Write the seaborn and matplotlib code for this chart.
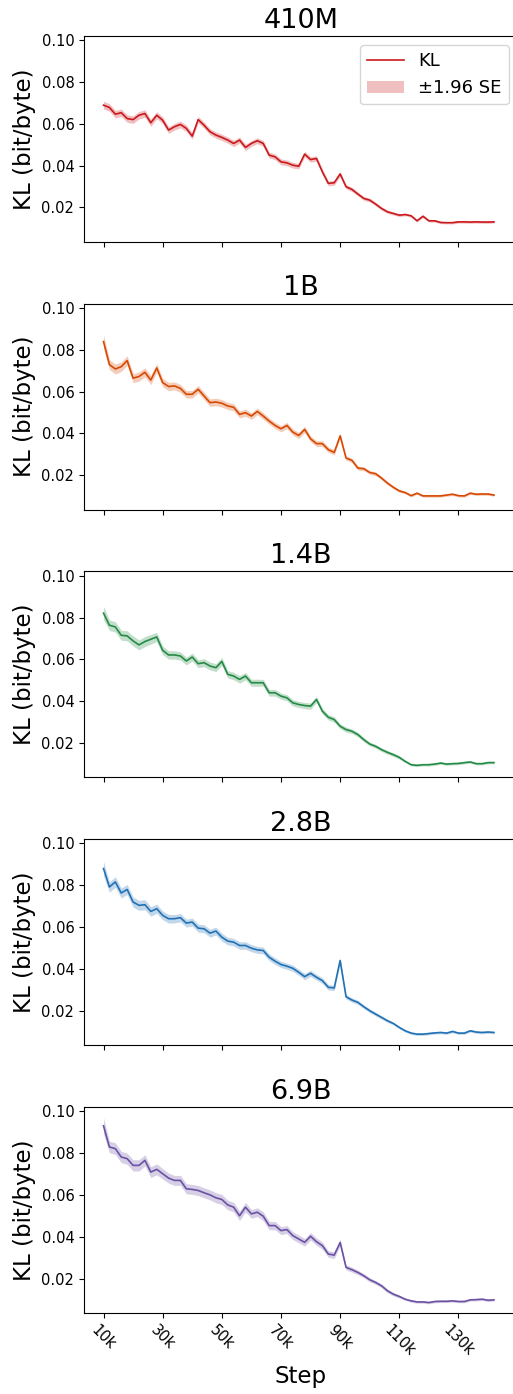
import matplotlib
matplotlib.use("Agg")
import matplotlib.pyplot as plt
import seaborn as sns
import numpy as np
import pandas as pd
from matplotlib.lines import Line2D
from matplotlib.patches import Patch

# ---------------- data ----------------
steps = list(range(10000, 143000, 2000))  # 10k .. 142k

models = ["410M", "1B", "1.4B", "2.8B", "6.9B"]

kl_410m = [0.0689, 0.0678, 0.0646, 0.0653, 0.0625, 0.0620, 0.0641, 0.0649, 0.0605, 0.0641,
           0.0617, 0.0570, 0.0586, 0.0597, 0.0578, 0.0541, 0.0620, 0.0593, 0.0562, 0.0546,
           0.0535, 0.0522, 0.0506, 0.0522, 0.0487, 0.0506, 0.0519, 0.0506, 0.0450, 0.0442,
           0.0418, 0.0413, 0.0402, 0.0397, 0.0455, 0.0429, 0.0434, 0.0370, 0.0315, 0.0318,
           0.0360, 0.0299, 0.0286, 0.0264, 0.0243, 0.0235, 0.0216, 0.0195, 0.0179, 0.0171,
           0.0163, 0.0166, 0.0160, 0.0136, 0.0158, 0.0136, 0.0136, 0.0128, 0.0127, 0.0127,
           0.0131, 0.0131, 0.0130, 0.0131, 0.0130, 0.0130, 0.0131]

kl_1b = [0.0839, 0.0729, 0.0708, 0.0719, 0.0748, 0.0664, 0.0672, 0.0692, 0.0655, 0.0713,
         0.0643, 0.0624, 0.0627, 0.0615, 0.0587, 0.0587, 0.0611, 0.0579, 0.0547, 0.0550,
         0.0544, 0.0531, 0.0525, 0.0491, 0.0499, 0.0483, 0.0505, 0.0483, 0.0459, 0.0438,
         0.0422, 0.0438, 0.0406, 0.0390, 0.0419, 0.0374, 0.0351, 0.0351, 0.0322, 0.0309,
         0.0388, 0.0282, 0.0271, 0.0234, 0.0231, 0.0213, 0.0207, 0.0186, 0.0162, 0.0142,
         0.0125, 0.0117, 0.0102, 0.0114, 0.0101, 0.0101, 0.0101, 0.0101, 0.0105, 0.0109,
         0.0102, 0.0101, 0.0114, 0.0109, 0.0110, 0.0110, 0.0105]

kl_1_4b = [0.0821, 0.0763, 0.0755, 0.0715, 0.0712, 0.0688, 0.0669, 0.0685, 0.0696, 0.0707,
           0.0643, 0.0621, 0.0621, 0.0616, 0.0592, 0.0611, 0.0579, 0.0584, 0.0568, 0.0560,
           0.0590, 0.0528, 0.0520, 0.0504, 0.0520, 0.0488, 0.0488, 0.0488, 0.0440, 0.0440,
           0.0424, 0.0416, 0.0392, 0.0384, 0.0379, 0.0376, 0.0408, 0.0352, 0.0323, 0.0312,
           0.0280, 0.0264, 0.0256, 0.0240, 0.0216, 0.0195, 0.0184, 0.0168, 0.0155, 0.0144,
           0.0131, 0.0112, 0.0096, 0.0093, 0.0096, 0.0096, 0.0099, 0.0104, 0.0099, 0.0101,
           0.0102, 0.0106, 0.0109, 0.0101, 0.0101, 0.0106, 0.0106]

kl_2_8b = [0.0880, 0.0792, 0.0816, 0.0763, 0.0780, 0.0720, 0.0704, 0.0707, 0.0675, 0.0688,
           0.0656, 0.0640, 0.0640, 0.0645, 0.0619, 0.0624, 0.0595, 0.0592, 0.0571, 0.0581,
           0.0552, 0.0533, 0.0528, 0.0512, 0.0512, 0.0499, 0.0491, 0.0488, 0.0456, 0.0437,
           0.0421, 0.0413, 0.0403, 0.0384, 0.0363, 0.0379, 0.0360, 0.0344, 0.0312, 0.0309,
           0.0440, 0.0267, 0.0251, 0.0240, 0.0219, 0.0200, 0.0184, 0.0168, 0.0152, 0.0139,
           0.0120, 0.0104, 0.0093, 0.0088, 0.0088, 0.0091, 0.0094, 0.0096, 0.0093, 0.0101,
           0.0093, 0.0093, 0.0104, 0.0098, 0.0096, 0.0098, 0.0096]

kl_6_9b = [0.0930, 0.0829, 0.0821, 0.0781, 0.0773, 0.0741, 0.0741, 0.0765, 0.0709, 0.0722,
           0.0701, 0.0680, 0.0669, 0.0669, 0.0629, 0.0626, 0.0621, 0.0610, 0.0600, 0.0586,
           0.0578, 0.0552, 0.0541, 0.0500, 0.0541, 0.0509, 0.0517, 0.0498, 0.0453, 0.0453,
           0.0429, 0.0434, 0.0405, 0.0389, 0.0373, 0.0402, 0.0376, 0.0357, 0.0317, 0.0312,
           0.0372, 0.0253, 0.0242, 0.0229, 0.0213, 0.0194, 0.0181, 0.0165, 0.0141, 0.0125,
           0.0114, 0.0101, 0.0093, 0.0088, 0.0088, 0.0085, 0.0090, 0.0091, 0.0091, 0.0093,
           0.0090, 0.0090, 0.0098, 0.0099, 0.0101, 0.0096, 0.0098]

# half-width of the ±1.96 SE band
se_410m = [0.0019, 0.0018, 0.0018, 0.0018, 0.0018, 0.0018, 0.0018, 0.0018, 0.0017, 0.0017,
           0.0016, 0.0016, 0.0016, 0.0016, 0.0016, 0.0015, 0.0015, 0.0015, 0.0015, 0.0015,
           0.0015, 0.0015, 0.0015, 0.0015, 0.0015, 0.0014, 0.0014, 0.0014, 0.0014, 0.0014,
           0.0014, 0.0014, 0.0014, 0.0013, 0.0013, 0.0013, 0.0013, 0.0013, 0.0012, 0.0012,
           0.0011, 0.0010, 0.0010, 0.0009, 0.0009, 0.0009, 0.0008, 0.0008, 0.0008, 0.0007,
           0.0007, 0.0006, 0.0006, 0.0006, 0.0006, 0.0006, 0.0006, 0.0006, 0.0006, 0.0006,
           0.0006, 0.0006, 0.0006, 0.0006, 0.0006, 0.0006, 0.0006]
se_1b = [0.0032, 0.0024, 0.0024, 0.0023, 0.0023, 0.0022, 0.0022, 0.0022, 0.0022, 0.0021,
         0.0020, 0.0020, 0.0019, 0.0019, 0.0018, 0.0018, 0.0018, 0.0018, 0.0018, 0.0018,
         0.0018, 0.0017, 0.0017, 0.0017, 0.0017, 0.0016, 0.0016, 0.0016, 0.0015, 0.0015,
         0.0015, 0.0015, 0.0015, 0.0015, 0.0015, 0.0014, 0.0014, 0.0014, 0.0013, 0.0013,
         0.0012, 0.0011, 0.0010, 0.0010, 0.0009, 0.0009, 0.0009, 0.0008, 0.0008, 0.0007,
         0.0007, 0.0006, 0.0006, 0.0006, 0.0006, 0.0006, 0.0006, 0.0006, 0.0006, 0.0006,
         0.0006, 0.0006, 0.0006, 0.0006, 0.0006, 0.0006, 0.0006]
se_1_4b = [0.0032, 0.0025, 0.0025, 0.0024, 0.0024, 0.0024, 0.0024, 0.0024, 0.0023, 0.0022,
           0.0021, 0.0020, 0.0020, 0.0020, 0.0019, 0.0019, 0.0019, 0.0019, 0.0019, 0.0019,
           0.0019, 0.0018, 0.0018, 0.0018, 0.0018, 0.0017, 0.0017, 0.0016, 0.0016, 0.0016,
           0.0015, 0.0015, 0.0015, 0.0015, 0.0015, 0.0015, 0.0014, 0.0014, 0.0013, 0.0013,
           0.0012, 0.0012, 0.0011, 0.0011, 0.0010, 0.0009, 0.0009, 0.0009, 0.0009, 0.0009,
           0.0008, 0.0006, 0.0006, 0.0006, 0.0006, 0.0006, 0.0006, 0.0006, 0.0006, 0.0006,
           0.0006, 0.0006, 0.0006, 0.0006, 0.0006, 0.0006, 0.0006]
se_2_8b = [0.0035, 0.0025, 0.0025, 0.0024, 0.0024, 0.0024, 0.0024, 0.0024, 0.0023, 0.0022,
           0.0021, 0.0021, 0.0020, 0.0020, 0.0019, 0.0019, 0.0019, 0.0019, 0.0019, 0.0019,
           0.0019, 0.0018, 0.0018, 0.0018, 0.0018, 0.0017, 0.0017, 0.0016, 0.0016, 0.0016,
           0.0015, 0.0015, 0.0015, 0.0015, 0.0015, 0.0015, 0.0014, 0.0014, 0.0013, 0.0013,
           0.0013, 0.0011, 0.0010, 0.0010, 0.0009, 0.0009, 0.0009, 0.0008, 0.0008, 0.0007,
           0.0006, 0.0006, 0.0006, 0.0006, 0.0006, 0.0006, 0.0006, 0.0006, 0.0006, 0.0006,
           0.0006, 0.0006, 0.0006, 0.0006, 0.0006, 0.0006, 0.0006]
se_6_9b = [0.0038, 0.0028, 0.0028, 0.0027, 0.0027, 0.0027, 0.0027, 0.0027, 0.0026, 0.0026,
           0.0025, 0.0024, 0.0024, 0.0024, 0.0024, 0.0024, 0.0024, 0.0024, 0.0024, 0.0024,
           0.0024, 0.0023, 0.0023, 0.0023, 0.0023, 0.0021, 0.0021, 0.0021, 0.0020, 0.0020,
           0.0019, 0.0019, 0.0019, 0.0019, 0.0018, 0.0018, 0.0018, 0.0017, 0.0016, 0.0016,
           0.0015, 0.0012, 0.0012, 0.0011, 0.0010, 0.0010, 0.0009, 0.0009, 0.0009, 0.0008,
           0.0007, 0.0006, 0.0006, 0.0006, 0.0006, 0.0006, 0.0006, 0.0006, 0.0006, 0.0006,
           0.0006, 0.0006, 0.0006, 0.0006, 0.0006, 0.0006, 0.0006]

colors = ["#cb181d", "#d94801", "#238b45", "#2171b5", "#6a51a3"]

xticks = [10000, 30000, 50000, 70000, 90000, 110000, 130000]
xtick_labels = ["10k", "30k", "50k", "70k", "90k", "110k", "130k"]
yticks = [0.02, 0.04, 0.06, 0.08, 0.10]
ytick_labels = ["0.02", "0.04", "0.06", "0.08", "0.10"]

series = [kl_410m, kl_1b, kl_1_4b, kl_2_8b, kl_6_9b]
ses = [se_410m, se_1b, se_1_4b, se_2_8b, se_6_9b]

# ---------------- figure ----------------
plt.rcParams['font.family'] = ['DejaVu Sans']
fig, axes = plt.subplots(5, 1, figsize=(5.13, 13.94), dpi=100, sharex=True, sharey=True)
fig.subplots_adjust(left=0.1637, right=1.009, top=0.9742, bottom=0.0581, hspace=0.30)

for i, ax in enumerate(axes):
    df = pd.DataFrame({"step": steps, "kl": series[i], "se": ses[i]})
    lo = df["kl"] - df["se"]
    hi = df["kl"] + df["se"]
    ax.fill_between(df["step"], lo, hi, color=colors[i], alpha=0.27, linewidth=0)
    sns.lineplot(data=df, x="step", y="kl", ax=ax, color=colors[i], linewidth=1.2)
    ax.set_title(models[i], fontsize=19.5)
    ax.set_ylabel("KL (bit/byte)", fontsize=16.5)
    ax.set_xlabel("")
    ax.set_yticks(yticks)
    ax.set_yticklabels(ytick_labels, fontsize=10.5)
    ax.set_xticks(xticks)
    ax.set_xticklabels(xtick_labels, fontsize=10.5, rotation=-45)
    ax.set_ylim(0.0035, 0.102)
    ax.set_xlim(3400, 150000)
    ax.spines["right"].set_visible(False)
    if i == 0:
        handles = [Line2D([0], [0], color=colors[0], linewidth=1.2),
                   Patch(facecolor=colors[0], alpha=0.27, edgecolor='none')]
        ax.legend(handles, ["KL", "±1.96 SE"], loc="upper right", fontsize=13)

axes[-1].set_xlabel("Step", fontsize=16.5)

fig.savefig("out.png", dpi=100)
